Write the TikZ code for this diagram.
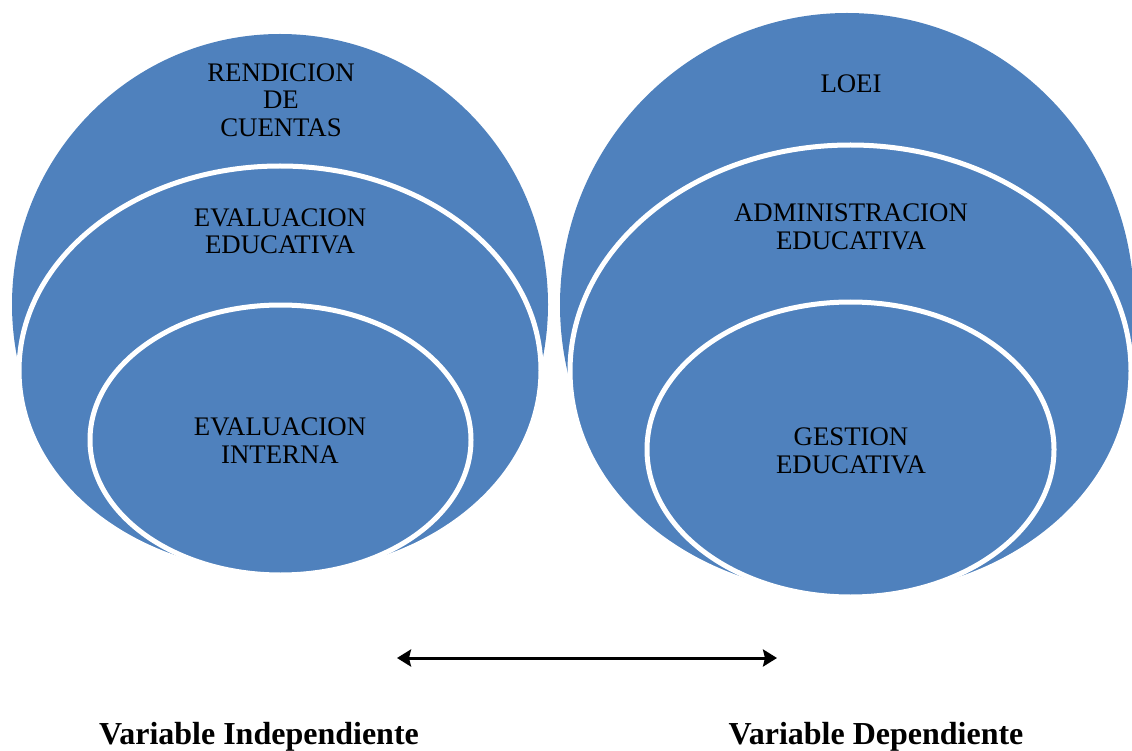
\documentclass[tikz,border=0pt]{standalone}
\usepackage{fontspec}
\setmainfont{Liberation Serif}
\usetikzlibrary{shapes.geometric,arrows.meta}
\definecolor{ablue}{RGB}{79,129,189}
\begin{document}
\begin{tikzpicture}[x=1pt,y=-1pt,
  outerdisc/.style={ellipse, fill=ablue, inner sep=0pt, outer sep=0pt},
  ring/.style={ellipse, fill=ablue, draw=white, line width=5pt, inner sep=0pt, outer sep=0pt},
  lbl/.style={font=\fontsize{26.8}{27.5}\selectfont, align=center, text=black, inner sep=0pt},
  foot/.style={font=\bfseries\fontsize{32}{36}\selectfont, inner sep=0pt},
  link/.style={line width=3pt, {Stealth[length=14pt,width=17pt,inset=2pt]}-{Stealth[length=14pt,width=17pt,inset=2pt]}}]
\useasboundingbox (0,0) rectangle (1132,751);
% left group
\node[outerdisc, minimum width=536pt, minimum height=541pt] (oL) at (280,304.5) {};
\node[ring, minimum width=522pt, minimum height=409pt] (mL) at (280,370.5) {};
\node[ring, minimum width=381pt, minimum height=270pt] (iL) at (280.5,440) {};
% right group
\node[outerdisc, minimum width=574pt, minimum height=584pt] (oR) at (847,305) {};
\node[ring, minimum width=561pt, minimum height=452pt] (mR) at (850.5,371) {};
\node[ring, minimum width=407pt, minimum height=295pt] (iR) at (850.5,449.5) {};
% labels
\node[lbl] (tL1) at (281,100) {RENDICION\\DE\\CUENTAS};
\node[lbl] (tL2) at (280,231.5) {EVALUACION\\EDUCATIVA};
\node[lbl] (tL3) at (280,440.5) {EVALUACION\\INTERNA};
\node[lbl] (tR1) at (851,84) {LOEI};
\node[lbl] (tR2) at (851,227) {ADMINISTRACION\\EDUCATIVA};
\node[lbl] (tR3) at (851,451) {GESTION\\EDUCATIVA};
% arrow
\coordinate (aL) at (397,658);
\coordinate (aR) at (777,658);
\draw[link] (aL) -- (aR);
% footers
\node[foot] (fL) at (259,737) {Variable Independiente};
\node[foot] (fR) at (876,737) {Variable Dependiente};
\end{tikzpicture}
\end{document}
